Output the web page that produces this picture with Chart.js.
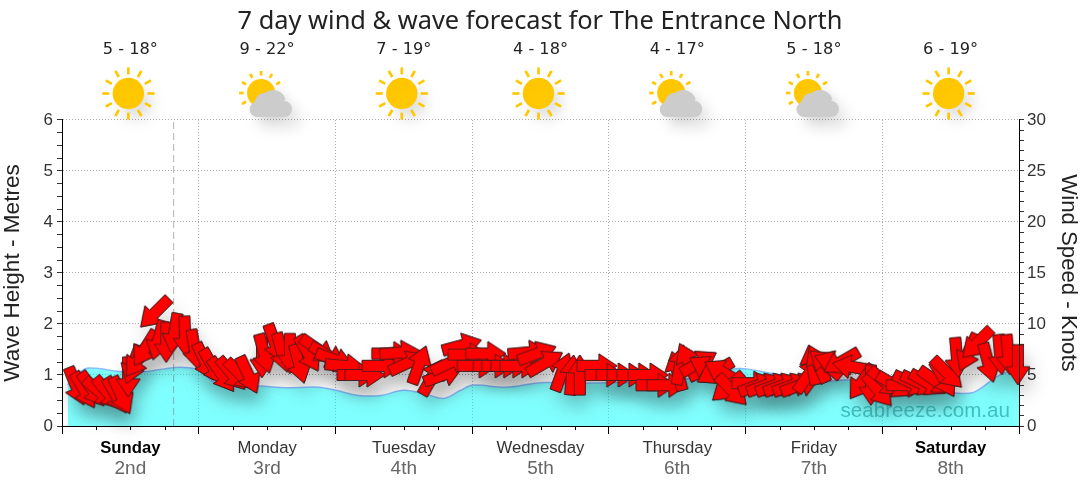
<!DOCTYPE html>
<html>
<head>
<meta charset="utf-8">
<title>7 day wind & wave forecast</title>
<script src="https://cdn.jsdelivr.net/npm/chart.js@4"></script>
<style>
html, body { margin: 0; padding: 0; background: #fff; }
canvas { display: block; }
</style>
</head>
<body>
<canvas id="chart" width="1080" height="490"></canvas>
<script>
// -------------------------------
// 1. Data
// -------------------------------
const titleText = '7 day wind & wave forecast for The Entrance North';
const waveAxisTitle = 'Wave Height - Metres';
const windAxisTitle = 'Wind Speed - Knots';
const watermark = 'seabreeze.com.au';

const dayNames = ['Sunday', 'Monday', 'Tuesday', 'Wednesday', 'Thursday', 'Friday', 'Saturday'];
const dayDates = ['2nd', '3rd', '4th', '5th', '6th', '7th', '8th'];
const dayTemps = ['5 - 18°', '9 - 22°', '7 - 19°', '4 - 18°', '4 - 17°', '5 - 18°', '6 - 19°'];
const dayIcons = ['sun', 'cloud', 'sun', 'sun', 'cloud', 'cloud', 'sun'];
const boldDays = ['Sunday', 'Saturday'];

const nowHour = 19.6;

const waveHours = [1, 1.3, 4, 6, 10, 14, 18, 21, 24, 27, 33, 39, 45, 48, 52, 56, 60, 64, 67, 70, 72, 78, 84, 90, 96, 102, 108, 114, 118, 120, 126, 132, 138, 142, 146, 152, 156, 160, 164, 166, 168];
const waveMetres = [0.8, 0.85, 1.12, 1.13, 1.07, 1.06, 1.12, 1.15, 1.1, 0.84, 0.8, 0.75, 0.76, 0.7, 0.6, 0.6, 0.7, 0.62, 0.54, 0.7, 0.8, 0.76, 0.85, 0.84, 0.85, 0.85, 0.9, 1.0, 1.12, 1.12, 1.0, 0.86, 0.9, 0.8, 0.67, 0.67, 0.65, 0.66, 0.96, 1.06, 1.06];

const windHours = [2.5, 3.9, 5.3, 6.7, 8.1, 9.5, 10.4, 11.6, 12.5, 13.3, 14.6, 16.3, 16.9, 18.3, 19.7, 21.6, 23.3, 25.1, 26.5, 28.1, 29.8, 31.4, 32.7, 35.1, 35.5, 37.4, 38.6, 40, 41.6, 43.2, 44.9, 46.7, 47.9, 49.7, 51.8, 53.2, 56.2, 57.9, 59.3, 60.7, 62.7, 65, 66.9, 68.1, 70.2, 71.3, 72.9, 74.4, 75.7, 77.2, 78.8, 80.4, 81.8, 83.4, 84.8, 87.8, 89.5, 90.9, 93.9, 95.3, 97.3, 99.2, 100.9, 102.9, 104.3, 106.2, 108, 108.5, 109.9, 111.8, 113.2, 114.6, 115.9, 116.9, 117.6, 121.1, 122.2, 123.6, 125.2, 126.6, 128.2, 129.6, 131, 131.7, 132.7, 134, 135.4, 136.8, 138.7, 140.4, 142, 143.3, 144.5, 146.2, 148.2, 149.2, 150.6, 152, 153.4, 154.8, 155.4, 157.1, 159.1, 160.6, 162.6, 164.7, 166.1, 167.8];
const windKnots = [3.9, 3.5, 3.6, 3.3, 3.2, 3, 3, 4.8, 6, 6.5, 7.6, 11.1, 8.4, 8.2, 9.1, 8.8, 7.5, 6.3, 5.8, 5, 5.1, 5, 5, 6.7, 7.1, 8.1, 7.2, 7.1, 6.1, 7.1, 7.5, 6.9, 6.5, 5.9, 5, 5, 5.9, 7.1, 7.2, 6.2, 6, 4.8, 5, 6.2, 7.9, 7, 5.9, 7.1, 5.9, 5.9, 5.9, 5.9, 7.2, 7.1, 6.2, 5.3, 5, 5, 5.9, 5, 5, 5, 5, 5, 4, 4, 5.4, 6, 6.3, 6.2, 5.7, 5.3, 5.3, 3.8, 3.5, 4.2, 4, 4, 4, 4, 4, 4, 5, 6, 6.1, 6.1, 6.2, 6.3, 5.8, 4.3, 4, 3.5, 4.3, 4, 4, 4.2, 4.2, 4.2, 4.4, 4.6, 5.2, 6.7, 7.2, 8.1, 6.2, 7, 7, 6];
const windBearing = [158, 150, 145, 130, 140, 150, 155, 180, 200, 215, 212, 225, 195, 180, 190, 178, 170, 155, 150, 145, 140, 135, 155, 180, 165, 160, 165, 180, 165, 150, 125, 120, 110, 95, 90, 90, 90, 90, 85, 65, 20, 30, 70, 65, 75, 90, 90, 90, 90, 90, 90, 90, 85, 70, 60, 20, 5, 0, 90, 90, 90, 90, 90, 90, 90, 90, 345, 10, 335, 60, 300, 240, 300, 230, 135, 90, 70, 70, 70, 70, 70, 70, 35, 350, 335, 310, 290, 240, 280, 215, 180, 140, 130, 120, 90, 115, 115, 120, 125, 150, 135, 175, 205, 225, 165, 175, 175, 180];

// -------------------------------
// 2. Arrow sprites for the wind points, one per bearing
// -------------------------------
function makeArrow(bearing) {
    const c = document.createElement('canvas');
    c.width = 60;
    c.height = 60;
    const g = c.getContext('2d');
    g.translate(30, 30);
    g.rotate(bearing * Math.PI / 180);
    g.beginPath();
    g.moveTo(0, -20);
    g.lineTo(12, -2);
    g.lineTo(5.5, -2);
    g.lineTo(5.5, 20);
    g.lineTo(-5.5, 20);
    g.lineTo(-5.5, -2);
    g.lineTo(-12, -2);
    g.closePath();
    g.fillStyle = '#ff0000';
    g.fill();
    g.strokeStyle = '#222';
    g.lineWidth = 0.7;
    g.stroke();
    return c;
}
const arrows = windBearing.map(makeArrow);

// -------------------------------
// 3. Plugins: shadow, icons, minor ticks, watermark
// -------------------------------
const shadowPass = {
    id: 'shadowPass',
    beforeDatasetDraw(chart, args) {
        if (chart.data.datasets[args.index].label !== 'Wind shadow') return;
        const ctx = chart.ctx;
        ctx.save();
        ctx.shadowColor = 'rgba(0,0,0,0.2)';
        ctx.shadowBlur = 18;
        ctx.shadowOffsetX = 4;
        ctx.shadowOffsetY = 12;
    },
    afterDatasetDraw(chart, args) {
        if (chart.data.datasets[args.index].label !== 'Wind shadow') return;
        chart.ctx.restore();
    }
};

function drawSun(ctx, x, y, r, rayLength, rays) {
    ctx.fillStyle = '#ffc800';
    ctx.beginPath();
    ctx.arc(x, y, r, 0, Math.PI * 2);
    ctx.fill();
    ctx.strokeStyle = '#ffc800';
    ctx.lineWidth = 2.7;
    for (let i = 0; i < 12; i++) {
        if (rays && !rays(i)) continue;
        const a = i * Math.PI / 6;
        ctx.beginPath();
        ctx.moveTo(x + Math.cos(a) * (r + 3.4), y + Math.sin(a) * (r + 3.4));
        ctx.lineTo(x + Math.cos(a) * (r + 3.4 + rayLength), y + Math.sin(a) * (r + 3.4 + rayLength));
        ctx.stroke();
    }
}

function drawCloud(ctx, x, y) {
    ctx.fillStyle = '#cccccc';
    ctx.beginPath();
    ctx.arc(x - 15, y + 6.5, 7.5, Math.PI * 0.5, Math.PI * 1.3);
    ctx.arc(x - 8, y - 1, 9, Math.PI * 1.05, Math.PI * 1.6);
    ctx.arc(x + 1, y, 13, Math.PI * 1.25, Math.PI * 1.9);
    ctx.arc(x + 12, y + 6, 8, Math.PI * 1.5, Math.PI * 0.5);
    ctx.closePath();
    ctx.fill();
}

const forecastExtras = {
    id: 'forecastExtras',
    afterDatasetsDraw(chart) {
        const ctx = chart.ctx;
        const xs = chart.scales.x;

        // short ticks every 6 hours between the day ticks
        ctx.save();
        ctx.strokeStyle = '#000';
        ctx.lineWidth = 1;
        for (let h = 6; h < 168; h += 6) {
            if (h % 24 === 0) continue;
            const px = Math.round(xs.getPixelForValue(h)) + 0.5;
            ctx.beginPath();
            ctx.moveTo(px, chart.chartArea.bottom);
            ctx.lineTo(px, chart.chartArea.bottom + 4);
            ctx.stroke();
        }
        ctx.restore();

        // weather icons above the plot
        dayIcons.forEach((kind, i) => {
            const cx = xs.getPixelForValue(12 + 24 * i) - 1;
            ctx.save();
            ctx.shadowColor = 'rgba(0,0,0,0.13)';
            ctx.shadowBlur = 15;
            ctx.shadowOffsetX = 8;
            ctx.shadowOffsetY = 10;
            if (kind === 'sun') {
                drawSun(ctx, cx - 1, 93.5, 15.7, 7);
            } else {
                drawSun(ctx, cx - 5, 93, 14, 4.6, a => a >= 5);
                drawCloud(ctx, cx + 6, 103);
            }
            ctx.restore();
        });

        // watermark
        ctx.save();
        ctx.fillStyle = 'rgba(0,128,128,0.5)';
        ctx.font = '20.6px "Liberation Sans"';
        ctx.textAlign = 'right';
        ctx.textBaseline = 'middle';
        ctx.fillText(watermark, chart.chartArea.right - 9, 411);
        ctx.restore();
    }
};

function dayOfTick(c) {
    if (!c.tick || c.tick.value % 24 !== 12) return null;
    return dayNames[(c.tick.value - 12) / 24];
}

// -------------------------------
// 4. Chart
// -------------------------------
const windPoints = windHours.map((h, i) => ({ x: h, y: windKnots[i] }));

new Chart(document.getElementById('chart'), {
    type: 'line',
    plugins: [shadowPass, forecastExtras],
    data: {
        datasets: [
            {
                label: 'Wind',
                data: windPoints,
                xAxisID: 'x',
                yAxisID: 'yWind',
                showLine: false,
                pointStyle: arrows,
                pointRadius: 10,
                clip: false,
                order: 0
            },
            {
                label: 'Wind shadow',
                data: windPoints,
                xAxisID: 'x',
                yAxisID: 'yWind',
                showLine: false,
                pointStyle: arrows,
                pointRadius: 10,
                clip: false,
                order: 1
            },
            {
                label: 'Now',
                data: [{ x: nowHour, y: 0 }, { x: nowHour, y: 6 }],
                xAxisID: 'x',
                yAxisID: 'y',
                borderColor: 'rgba(120,120,120,0.55)',
                borderWidth: 1,
                borderDash: [7, 4],
                pointRadius: 0,
                order: 2
            },
            {
                label: 'Wave',
                data: waveHours.map((h, i) => ({ x: h, y: waveMetres[i] })),
                xAxisID: 'x',
                yAxisID: 'y',
                borderColor: '#88c0ff',
                borderWidth: 1.5,
                backgroundColor: 'rgba(0,255,255,0.5)',
                fill: 'origin',
                tension: 0.35,
                pointRadius: 0,
                order: 3
            }
        ]
    },
    options: {
        responsive: false,
        animation: false,
        events: [],
        layout: { padding: 0 },
        plugins: {
            legend: { display: false },
            tooltip: { enabled: false },
            title: {
                display: true,
                text: titleText,
                color: '#222',
                font: { family: '"Noto Sans"', size: 25.4, weight: 'normal', lineHeight: 1.2 },
                padding: { top: 6.5, bottom: 3 }
            }
        },
        scales: {
            x: {
                type: 'linear',
                position: 'bottom',
                weight: 0,
                min: 0,
                max: 168,
                afterFit: s => { s.height = 30; },
                border: { display: true, color: '#000', width: 1, z: 1, dash: [1, 2] },
                grid: {
                    color: c => c.tick && c.tick.value % 24 === 0 ? '#aaa' : 'transparent',
                    tickColor: c => c.tick && c.tick.value % 24 === 0 ? '#000' : 'transparent',
                    tickLength: 8,
                    tickBorderDash: []
                },
                ticks: {
                    stepSize: 6,
                    autoSkip: false,
                    maxRotation: 0,
                    padding: 4,
                    color: c => boldDays.includes(dayOfTick(c)) ? '#000' : '#333',
                    font: c => ({
                        family: '"Liberation Sans"',
                        size: 16.7,
                        weight: boldDays.includes(dayOfTick(c)) ? 'bold' : 'normal'
                    }),
                    callback: v => v % 24 === 12 ? dayNames[(v - 12) / 24] : ''
                }
            },
            xDates: {
                type: 'linear',
                position: 'bottom',
                weight: 1,
                min: 0,
                max: 168,
                afterFit: s => { s.height = 34; },
                border: { display: false },
                grid: { display: false, drawTicks: false },
                ticks: {
                    stepSize: 12,
                    autoSkip: false,
                    maxRotation: 0,
                    padding: 1,
                    color: '#666',
                    font: { family: '"Liberation Sans"', size: 19 },
                    callback: v => v % 24 === 12 ? dayDates[(v - 12) / 24] : ''
                }
            },
            xTemps: {
                type: 'linear',
                position: 'top',
                min: 0,
                max: 168,
                afterFit: s => { s.height = 80; },
                border: { display: false },
                grid: { display: false, drawTicks: false },
                ticks: {
                    stepSize: 12,
                    autoSkip: false,
                    maxRotation: 0,
                    padding: 60,
                    color: '#222',
                    font: { family: '"DejaVu Sans"', size: 16.2 },
                    callback: v => v % 24 === 12 ? dayTemps[(v - 12) / 24] : ''
                }
            },
            y: {
                type: 'linear',
                position: 'left',
                min: 0,
                max: 6,
                afterFit: s => { s.width = 62; },
                title: {
                    display: true,
                    text: waveAxisTitle,
                    color: '#222',
                    font: { family: '"Liberation Sans"', size: 22.6, lineHeight: 1.15 },
                    padding: 0
                },
                border: { color: '#000', width: 1, z: 1, dash: [1, 2] },
                grid: {
                    color: c => c.tick && Number.isInteger(c.tick.value) ? '#aaa' : 'transparent',
                    tickColor: '#333',
                    tickLength: 5,
                    tickBorderDash: []
                },
                ticks: {
                    stepSize: 0.25,
                    autoSkip: false,
                    padding: 4,
                    color: '#333',
                    font: { family: '"Liberation Sans"', size: 17 },
                    callback: v => Number.isInteger(v) ? v : ''
                }
            },
            yWind: {
                type: 'linear',
                position: 'right',
                min: 0,
                max: 30,
                afterFit: s => { s.width = 61; },
                title: {
                    display: true,
                    text: windAxisTitle,
                    color: '#222',
                    font: { family: '"Liberation Sans"', size: 22.2, lineHeight: 1.1 },
                    padding: 0
                },
                border: { color: '#000', width: 1, z: 1 },
                grid: { drawOnChartArea: false, tickColor: '#333', tickLength: 5 },
                ticks: {
                    stepSize: 1,
                    autoSkip: false,
                    padding: 3,
                    color: '#333',
                    font: { family: '"Liberation Sans"', size: 17 },
                    callback: v => v % 5 === 0 ? v : ''
                }
            }
        }
    }
});
</script>
</body>
</html>
